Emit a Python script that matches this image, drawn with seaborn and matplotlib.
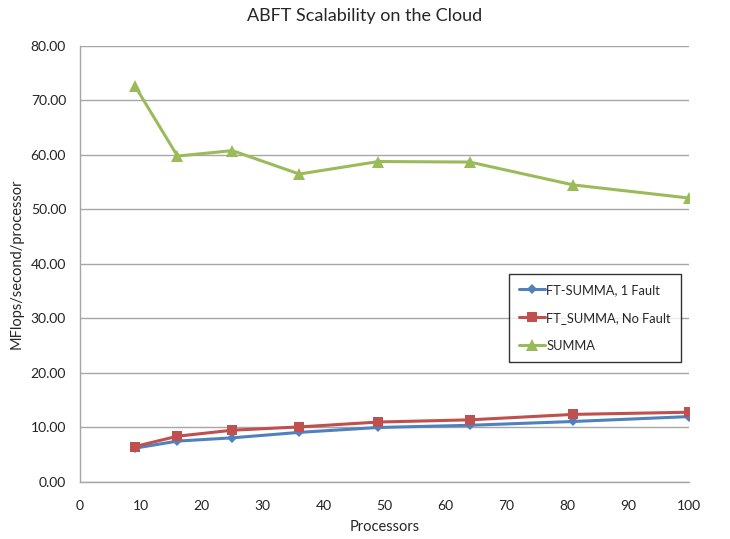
import matplotlib
matplotlib.use("Agg")
import matplotlib.pyplot as plt
import seaborn as sns
import pandas as pd

processors = [9, 16, 25, 36, 49, 64, 81, 100]
ft_1fault = [6.2, 7.5, 8.1, 9.1, 10.0, 10.4, 11.1, 12.0]
ft_nofault = [6.5, 8.4, 9.5, 10.1, 11.0, 11.4, 12.4, 12.8]
summa = [72.7, 59.8, 60.8, 56.5, 58.8, 58.7, 54.5, 52.1]
series_names = ["FT-SUMMA, 1 Fault", "FT_SUMMA, No Fault", "SUMMA"]

sns.set_theme(style="white")
plt.rcParams['font.family'] = ['Lato', 'DejaVu Sans']

df = pd.DataFrame({
    "Processors": processors * 3,
    "value": ft_1fault + ft_nofault + summa,
    "series": [series_names[0]] * 8 + [series_names[1]] * 8 + [series_names[2]] * 8,
})

fig = plt.figure(figsize=(7.3, 5.39), dpi=100)
ax = fig.add_axes([0.1096, 0.1058, 0.8344, 0.8089])

palette = {series_names[0]: "#4F81BD", series_names[1]: "#C0504D", series_names[2]: "#9BBB59"}
markers = {series_names[0]: "D", series_names[1]: "s", series_names[2]: "^"}
sizes_m = {series_names[0]: 5, series_names[1]: 7, series_names[2]: 8}
for name in series_names:
    sub = df[df.series == name]
    sns.lineplot(data=sub, x="Processors", y="value", ax=ax, color=palette[name],
                 marker=markers[name], markersize=sizes_m[name], markeredgewidth=0,
                 linewidth=2.2, label=name)

ax.set_xlim(0, 100)
ax.set_ylim(0, 80)
ax.set_xticks(range(0, 101, 10))
ax.set_yticks(range(0, 81, 10))
ax.set_yticklabels([f"{v:.2f}" for v in range(0, 81, 10)])
ax.tick_params(axis="both", labelsize=10, colors="#222222", length=0)
ax.tick_params(axis="x", pad=13)
ax.tick_params(axis="y", pad=10)
ax.yaxis.grid(True, color="#A6A6A6", linewidth=1)
ax.xaxis.grid(False)
for s in ["top", "right"]:
    ax.spines[s].set_visible(False)
for s in ["left", "bottom"]:
    ax.spines[s].set_color("#A6A6A6")
    ax.spines[s].set_linewidth(1)

ax.set_xlabel("Processors", fontsize=10.5, labelpad=6)
ax.set_ylabel("MFlops/second/processor", fontsize=10.5, labelpad=5)
fig.suptitle("ABFT Scalability on the Cloud", fontsize=13, y=0.985)

leg = ax.legend(loc="upper left", bbox_to_anchor=(0.705, 0.477), frameon=True,
                fancybox=False, fontsize=9.3, handlelength=2.0, handletextpad=0.1,
                labelspacing=1.25, borderpad=0.75, borderaxespad=0)
leg.get_frame().set_edgecolor("#000000")
leg.get_frame().set_linewidth(1)

fig.savefig("out.png", dpi=100)
